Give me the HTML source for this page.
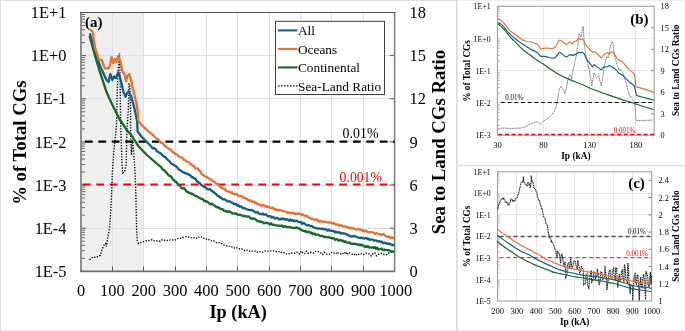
<!DOCTYPE html>
<html><head><meta charset="utf-8"><style>
html,body{margin:0;padding:0;background:#fff;width:685px;height:331px;overflow:hidden}
svg{display:block;will-change:transform}
text{font-family:"Liberation Serif", serif}
</style></head><body>
<svg width="685" height="331" viewBox="0 0 685 331">
<rect width="685" height="331" fill="#fff"/>
<rect x="81" y="12.5" width="62.7" height="258.8" fill="#efefef"/>
<line x1="112.5" y1="12.5" x2="112.5" y2="271.3" stroke="#e0e0e0" stroke-width="1"/>
<line x1="143.5" y1="12.5" x2="143.5" y2="271.3" stroke="#e0e0e0" stroke-width="1"/>
<line x1="175.5" y1="12.5" x2="175.5" y2="271.3" stroke="#e0e0e0" stroke-width="1"/>
<line x1="206.5" y1="12.5" x2="206.5" y2="271.3" stroke="#e0e0e0" stroke-width="1"/>
<line x1="237.5" y1="12.5" x2="237.5" y2="271.3" stroke="#e0e0e0" stroke-width="1"/>
<line x1="269.5" y1="12.5" x2="269.5" y2="271.3" stroke="#e0e0e0" stroke-width="1"/>
<line x1="300.5" y1="12.5" x2="300.5" y2="271.3" stroke="#e0e0e0" stroke-width="1"/>
<line x1="331.5" y1="12.5" x2="331.5" y2="271.3" stroke="#e0e0e0" stroke-width="1"/>
<line x1="363.5" y1="12.5" x2="363.5" y2="271.3" stroke="#e0e0e0" stroke-width="1"/>
<line x1="81" y1="55.5" x2="394.6" y2="55.5" stroke="#e0e0e0" stroke-width="1"/>
<line x1="81" y1="98.5" x2="394.6" y2="98.5" stroke="#e0e0e0" stroke-width="1"/>
<line x1="81" y1="141.5" x2="394.6" y2="141.5" stroke="#e0e0e0" stroke-width="1"/>
<line x1="81" y1="185.5" x2="394.6" y2="185.5" stroke="#e0e0e0" stroke-width="1"/>
<line x1="81" y1="228.5" x2="394.6" y2="228.5" stroke="#e0e0e0" stroke-width="1"/>
<line x1="81" y1="42.6" x2="85" y2="42.6" stroke="#595959" stroke-width="0.9"/>
<line x1="81" y1="35.1" x2="85" y2="35.1" stroke="#595959" stroke-width="0.9"/>
<line x1="81" y1="29.7" x2="85" y2="29.7" stroke="#595959" stroke-width="0.9"/>
<line x1="81" y1="25.5" x2="85" y2="25.5" stroke="#595959" stroke-width="0.9"/>
<line x1="81" y1="22.1" x2="85" y2="22.1" stroke="#595959" stroke-width="0.9"/>
<line x1="81" y1="19.2" x2="85" y2="19.2" stroke="#595959" stroke-width="0.9"/>
<line x1="81" y1="16.7" x2="85" y2="16.7" stroke="#595959" stroke-width="0.9"/>
<line x1="81" y1="14.5" x2="85" y2="14.5" stroke="#595959" stroke-width="0.9"/>
<line x1="81" y1="85.8" x2="85" y2="85.8" stroke="#595959" stroke-width="0.9"/>
<line x1="81" y1="78.2" x2="85" y2="78.2" stroke="#595959" stroke-width="0.9"/>
<line x1="81" y1="72.8" x2="85" y2="72.8" stroke="#595959" stroke-width="0.9"/>
<line x1="81" y1="68.6" x2="85" y2="68.6" stroke="#595959" stroke-width="0.9"/>
<line x1="81" y1="65.2" x2="85" y2="65.2" stroke="#595959" stroke-width="0.9"/>
<line x1="81" y1="62.3" x2="85" y2="62.3" stroke="#595959" stroke-width="0.9"/>
<line x1="81" y1="59.8" x2="85" y2="59.8" stroke="#595959" stroke-width="0.9"/>
<line x1="81" y1="57.6" x2="85" y2="57.6" stroke="#595959" stroke-width="0.9"/>
<line x1="81" y1="128.9" x2="85" y2="128.9" stroke="#595959" stroke-width="0.9"/>
<line x1="81" y1="121.3" x2="85" y2="121.3" stroke="#595959" stroke-width="0.9"/>
<line x1="81" y1="115.9" x2="85" y2="115.9" stroke="#595959" stroke-width="0.9"/>
<line x1="81" y1="111.8" x2="85" y2="111.8" stroke="#595959" stroke-width="0.9"/>
<line x1="81" y1="108.3" x2="85" y2="108.3" stroke="#595959" stroke-width="0.9"/>
<line x1="81" y1="105.4" x2="85" y2="105.4" stroke="#595959" stroke-width="0.9"/>
<line x1="81" y1="102.9" x2="85" y2="102.9" stroke="#595959" stroke-width="0.9"/>
<line x1="81" y1="100.7" x2="85" y2="100.7" stroke="#595959" stroke-width="0.9"/>
<line x1="81" y1="172.0" x2="85" y2="172.0" stroke="#595959" stroke-width="0.9"/>
<line x1="81" y1="164.5" x2="85" y2="164.5" stroke="#595959" stroke-width="0.9"/>
<line x1="81" y1="159.1" x2="85" y2="159.1" stroke="#595959" stroke-width="0.9"/>
<line x1="81" y1="154.9" x2="85" y2="154.9" stroke="#595959" stroke-width="0.9"/>
<line x1="81" y1="151.5" x2="85" y2="151.5" stroke="#595959" stroke-width="0.9"/>
<line x1="81" y1="148.6" x2="85" y2="148.6" stroke="#595959" stroke-width="0.9"/>
<line x1="81" y1="146.1" x2="85" y2="146.1" stroke="#595959" stroke-width="0.9"/>
<line x1="81" y1="143.9" x2="85" y2="143.9" stroke="#595959" stroke-width="0.9"/>
<line x1="81" y1="215.2" x2="85" y2="215.2" stroke="#595959" stroke-width="0.9"/>
<line x1="81" y1="207.6" x2="85" y2="207.6" stroke="#595959" stroke-width="0.9"/>
<line x1="81" y1="202.2" x2="85" y2="202.2" stroke="#595959" stroke-width="0.9"/>
<line x1="81" y1="198.0" x2="85" y2="198.0" stroke="#595959" stroke-width="0.9"/>
<line x1="81" y1="194.6" x2="85" y2="194.6" stroke="#595959" stroke-width="0.9"/>
<line x1="81" y1="191.7" x2="85" y2="191.7" stroke="#595959" stroke-width="0.9"/>
<line x1="81" y1="189.2" x2="85" y2="189.2" stroke="#595959" stroke-width="0.9"/>
<line x1="81" y1="187.0" x2="85" y2="187.0" stroke="#595959" stroke-width="0.9"/>
<line x1="81" y1="258.3" x2="85" y2="258.3" stroke="#595959" stroke-width="0.9"/>
<line x1="81" y1="250.7" x2="85" y2="250.7" stroke="#595959" stroke-width="0.9"/>
<line x1="81" y1="245.3" x2="85" y2="245.3" stroke="#595959" stroke-width="0.9"/>
<line x1="81" y1="241.2" x2="85" y2="241.2" stroke="#595959" stroke-width="0.9"/>
<line x1="81" y1="237.7" x2="85" y2="237.7" stroke="#595959" stroke-width="0.9"/>
<line x1="81" y1="234.8" x2="85" y2="234.8" stroke="#595959" stroke-width="0.9"/>
<line x1="81" y1="232.3" x2="85" y2="232.3" stroke="#595959" stroke-width="0.9"/>
<line x1="81" y1="230.1" x2="85" y2="230.1" stroke="#595959" stroke-width="0.9"/>
<line x1="81" y1="12.5" x2="86" y2="12.5" stroke="#595959" stroke-width="1"/>
<line x1="81" y1="55.6" x2="86" y2="55.6" stroke="#595959" stroke-width="1"/>
<line x1="81" y1="98.8" x2="86" y2="98.8" stroke="#595959" stroke-width="1"/>
<line x1="81" y1="141.9" x2="86" y2="141.9" stroke="#595959" stroke-width="1"/>
<line x1="81" y1="185.0" x2="86" y2="185.0" stroke="#595959" stroke-width="1"/>
<line x1="81" y1="228.2" x2="86" y2="228.2" stroke="#595959" stroke-width="1"/>
<line x1="81" y1="271.3" x2="86" y2="271.3" stroke="#595959" stroke-width="1"/>
<line x1="112.5" y1="271.3" x2="112.5" y2="266.3" stroke="#595959" stroke-width="1"/>
<line x1="143.5" y1="271.3" x2="143.5" y2="266.3" stroke="#595959" stroke-width="1"/>
<line x1="175.5" y1="271.3" x2="175.5" y2="266.3" stroke="#595959" stroke-width="1"/>
<line x1="206.5" y1="271.3" x2="206.5" y2="266.3" stroke="#595959" stroke-width="1"/>
<line x1="237.5" y1="271.3" x2="237.5" y2="266.3" stroke="#595959" stroke-width="1"/>
<line x1="269.5" y1="271.3" x2="269.5" y2="266.3" stroke="#595959" stroke-width="1"/>
<line x1="300.5" y1="271.3" x2="300.5" y2="266.3" stroke="#595959" stroke-width="1"/>
<line x1="331.5" y1="271.3" x2="331.5" y2="266.3" stroke="#595959" stroke-width="1"/>
<line x1="363.5" y1="271.3" x2="363.5" y2="266.3" stroke="#595959" stroke-width="1"/>
<line x1="394.6" y1="55.6" x2="389.6" y2="55.6" stroke="#595959" stroke-width="1"/>
<line x1="394.6" y1="98.8" x2="389.6" y2="98.8" stroke="#595959" stroke-width="1"/>
<line x1="394.6" y1="141.9" x2="389.6" y2="141.9" stroke="#595959" stroke-width="1"/>
<line x1="394.6" y1="185.0" x2="389.6" y2="185.0" stroke="#595959" stroke-width="1"/>
<line x1="394.6" y1="228.2" x2="389.6" y2="228.2" stroke="#595959" stroke-width="1"/>
<line x1="81" y1="12.5" x2="81" y2="271.3" stroke="#8a8a8a" stroke-width="1.9"/>
<line x1="394.6" y1="12.5" x2="394.6" y2="271.3" stroke="#7a7a7a" stroke-width="1.5"/>
<line x1="80" y1="271.3" x2="395.3" y2="271.3" stroke="#6e6e6e" stroke-width="1.8"/>
<line x1="80" y1="12.5" x2="395.3" y2="12.5" stroke="#505050" stroke-width="1.2"/>
<line x1="85" y1="141.6" x2="394.6" y2="141.6" stroke="#000" stroke-width="2.2" stroke-dasharray="7.7 5.7"/>
<line x1="82.8" y1="184.5" x2="394.6" y2="184.5" stroke="#ff0000" stroke-width="2.2" stroke-dasharray="7.7 5.8"/>
<polyline points="89.50,259.80 92.70,257.10 95.90,257.50 100.10,255.40 102.20,249.00 104.30,244.80 105.50,243.50 106.40,246.50 107.50,239.10 109.60,227.50 110.70,212.70 111.30,200.00 112.30,173.00 114.00,150.00 116.50,125.00 117.30,90.00 118.20,70.00 119.50,53.50 120.10,75.00 120.40,110.00 121.00,135.00 121.90,160.00 122.60,173.00 124.50,172.00 126.10,165.00 126.90,132.00 128.30,110.00 129.00,84.00 129.80,84.00 130.50,110.00 130.80,140.00 131.40,155.00 132.70,140.00 133.60,152.00 135.20,175.00 136.00,200.00 136.60,230.00 137.40,241.00 138.50,243.30 141.30,242.30 143.65,241.70 146.00,240.70 148.03,240.72 150.07,240.44 152.10,239.60 154.10,240.77 156.10,240.92 158.10,241.00 160.13,241.41 162.17,239.71 164.20,240.20 166.20,240.04 168.20,240.71 170.20,239.90 172.23,240.04 174.27,240.34 176.30,239.60 178.30,238.35 180.30,238.28 182.30,237.70 184.55,236.74 186.80,236.60 188.83,237.14 190.87,237.65 192.90,238.00 195.15,237.42 197.40,238.40 199.70,236.50 201.55,237.00 203.40,238.40 205.43,238.45 207.47,239.87 209.50,239.60 211.50,240.89 213.50,240.79 215.50,242.20 217.53,243.18 219.57,242.62 221.60,243.70 223.85,244.89 226.10,245.70 228.35,245.75 230.60,247.00 232.63,246.50 234.67,248.19 236.70,247.90 238.35,247.99 240.00,249.00 241.86,248.90 243.72,250.49 245.58,250.68 247.44,250.10 249.30,250.80 250.92,251.66 252.53,251.10 254.15,251.43 255.77,250.79 257.38,252.09 259.00,251.50 260.62,251.77 262.23,252.18 263.85,252.03 265.47,251.04 267.08,251.11 268.70,251.30 270.30,250.85 271.90,250.90 273.50,250.85 275.10,251.32 276.70,251.88 278.30,251.80 279.92,251.32 281.53,252.72 283.15,252.49 284.77,252.76 286.38,253.89 288.00,253.70 289.62,253.47 291.23,253.01 292.85,253.07 294.47,253.23 296.08,251.99 297.70,252.50 299.46,253.93 301.21,251.07 302.97,253.25 304.73,253.53 306.49,251.05 308.24,253.36 310.00,252.50 311.85,252.20 313.70,252.94 315.55,251.33 317.40,251.54 319.25,252.04 321.10,253.10 322.73,254.47 324.36,252.19 325.99,253.87 327.62,254.39 329.25,254.43 330.88,252.63 332.52,252.66 334.15,253.17 335.78,253.93 337.41,251.92 339.04,253.85 340.67,253.99 342.30,253.10 343.92,254.29 345.55,251.94 347.17,254.78 348.79,252.34 350.42,253.20 352.04,254.12 353.66,255.16 355.28,253.54 356.91,255.41 358.53,254.39 360.15,253.81 361.78,253.94 363.40,254.60 365.03,253.60 366.66,253.27 368.29,253.45 369.92,255.04 371.55,255.94 373.18,253.40 374.82,253.03 376.45,255.81 378.08,254.42 379.71,254.01 381.34,253.47 382.97,254.51 384.60,254.20 386.50,254.76 388.40,253.23 390.30,252.71 392.20,251.19 394.10,252.10" fill="none" stroke="#000" stroke-width="1.35" stroke-dasharray="1.3 1.5"/>
<polyline points="89.60,35.90 95.00,55.60 99.50,70.70 104.00,84.30 105.80,90.00 107.80,95.00 112.20,104.50 119.40,119.00 126.70,129.90 130.00,133.60 133.90,139.00 138.50,146.30 146.90,155.00 160.00,166.30 161.08,166.78 162.16,168.99 163.23,169.92 164.31,170.17 165.39,171.63 166.47,172.62 167.54,174.01 168.62,175.30 169.70,175.90 170.77,176.33 171.83,177.30 172.90,179.67 173.97,180.10 175.03,181.71 176.10,181.57 177.17,183.36 178.23,184.88 179.30,185.60 180.38,185.97 181.46,187.91 182.53,188.64 183.61,188.05 184.69,188.84 185.77,190.47 186.84,191.90 187.92,191.81 189.00,192.80 190.08,192.89 191.16,193.76 192.23,193.68 193.31,194.53 194.39,195.42 195.47,196.06 196.54,196.18 197.62,196.72 198.70,197.70 199.77,197.78 200.83,198.70 201.90,198.96 202.97,199.07 204.03,200.91 205.10,200.99 206.17,201.66 207.23,201.46 208.30,202.50 209.50,203.86 210.70,204.23 211.90,203.62 213.10,204.80 214.12,205.03 215.13,206.15 216.15,206.64 217.17,207.50 218.18,207.18 219.20,207.80 220.20,208.83 221.20,209.07 222.20,208.99 223.20,209.94 224.20,210.91 225.20,210.80 226.22,211.65 227.23,211.41 228.25,211.84 229.27,211.26 230.28,211.89 231.30,212.60 232.53,213.48 233.77,213.26 235.00,213.80 236.00,213.50 237.00,214.32 238.00,214.79 239.00,214.97 240.00,214.71 241.00,215.04 242.00,215.37 243.00,216.02 244.00,215.80 245.00,216.13 246.00,216.23 247.00,216.68 248.00,216.25 249.00,216.57 250.00,217.93 251.00,218.67 252.00,218.35 253.00,218.50 254.00,218.74 255.00,218.79 256.00,219.74 257.00,220.92 258.00,220.99 259.00,221.03 260.00,221.95 261.00,221.36 262.00,222.20 263.00,222.42 264.00,223.32 265.00,222.92 266.00,222.93 267.00,222.83 268.00,223.40 269.02,223.68 270.03,224.53 271.05,223.21 272.07,224.65 273.08,224.91 274.10,224.60 275.10,225.42 276.10,225.38 277.10,225.69 278.10,225.43 279.10,225.70 280.10,225.80 281.12,225.85 282.13,225.42 283.15,226.89 284.17,226.58 285.18,226.15 286.20,226.80 287.20,226.94 288.20,227.04 289.20,226.97 290.20,227.09 291.20,227.53 292.20,227.60 293.22,227.93 294.23,228.05 295.25,227.93 296.27,227.38 297.28,227.83 298.30,228.40 299.32,228.28 300.35,229.32 301.38,230.15 302.40,230.44 303.43,230.83 304.45,231.26 305.48,230.75 306.50,232.08 307.53,232.20 308.55,231.65 309.58,231.94 310.60,233.10 311.65,232.63 312.70,234.13 313.75,233.63 314.80,233.72 315.85,234.85 316.90,234.71 317.95,234.58 319.00,235.04 320.05,235.93 321.10,236.20 322.16,235.88 323.22,236.26 324.28,237.17 325.34,236.97 326.40,236.97 327.46,237.42 328.52,236.91 329.58,237.70 330.64,237.96 331.70,238.30 332.76,238.08 333.82,238.23 334.88,239.78 335.94,239.44 337.00,239.23 338.06,240.15 339.12,240.77 340.18,239.77 341.24,240.05 342.30,241.10 343.36,240.78 344.42,241.95 345.48,241.31 346.54,242.43 347.60,242.64 348.66,242.67 349.72,242.40 350.78,243.86 351.84,243.83 352.90,243.60 353.95,243.84 355.00,243.58 356.05,244.47 357.10,244.27 358.15,244.77 359.20,244.57 360.25,245.28 361.30,244.57 362.35,245.17 363.40,245.70 364.46,246.67 365.52,246.74 366.58,246.05 367.64,247.15 368.70,246.50 369.76,247.72 370.82,247.63 371.88,247.33 372.94,247.28 374.00,247.90 375.06,247.27 376.12,248.83 377.18,247.64 378.24,249.05 379.30,249.44 380.36,248.97 381.42,248.49 382.48,249.77 383.54,250.10 384.60,249.50 385.66,250.12 386.71,250.09 387.77,250.17 388.82,250.41 389.88,250.47 390.93,251.51 391.99,251.41 393.04,251.32 394.10,252.10" fill="none" stroke="#16692a" stroke-width="2.3" stroke-linejoin="round"/>
<polyline points="89.80,33.20 95.00,51.00 99.50,64.60 102.60,71.40 105.00,77.00 106.30,79.70 107.40,80.50 108.60,82.00 110.40,74.00 112.30,80.00 114.10,76.40 115.90,78.20 118.30,72.20 120.70,80.00 121.90,85.00 123.10,90.90 125.50,96.90 126.80,93.30 128.60,91.50 131.00,95.70 132.80,102.40 134.60,109.00 135.80,115.00 137.10,121.00 137.60,131.50 141.60,136.80 151.10,146.30 152.21,147.87 153.32,148.69 154.44,148.10 155.55,148.99 156.66,151.02 157.78,151.70 158.89,152.43 160.00,153.00 161.08,153.63 162.16,155.04 163.23,155.97 164.31,156.86 165.39,157.12 166.47,158.49 167.54,159.36 168.62,160.82 169.70,161.40 170.77,163.14 171.83,164.01 172.90,164.30 173.97,165.09 175.03,165.75 176.10,166.32 177.17,167.26 178.23,168.90 179.30,169.90 180.41,170.22 181.53,170.94 182.64,172.37 183.76,172.40 184.87,173.07 185.99,173.16 187.10,174.20 188.10,173.94 189.10,174.92 190.10,175.12 191.10,176.22 192.10,177.50 193.10,177.20 194.25,178.50 195.40,178.72 196.55,180.88 197.70,181.74 198.85,182.66 200.00,183.30 201.00,184.82 202.00,185.45 203.00,185.90 204.00,186.96 205.00,186.87 206.00,187.70 207.03,188.97 208.07,189.44 209.10,189.20 210.10,189.16 211.10,190.61 212.10,190.70 213.11,191.89 214.13,192.32 215.14,193.28 216.16,194.06 217.17,195.59 218.19,195.76 219.20,196.60 220.20,197.66 221.20,197.43 222.20,198.81 223.20,199.37 224.20,199.20 225.20,199.80 226.22,200.34 227.23,201.34 228.25,201.46 229.27,201.51 230.28,201.52 231.30,202.40 232.53,202.69 233.77,203.85 235.00,204.10 236.08,204.01 237.16,205.63 238.24,205.05 239.32,206.52 240.40,206.30 241.58,206.54 242.76,208.11 243.94,208.25 245.12,208.47 246.30,209.00 247.43,209.35 248.57,209.88 249.70,210.09 250.83,209.97 251.97,210.12 253.10,210.90 254.20,211.36 255.30,212.47 256.40,212.42 257.50,211.98 258.60,213.10 259.67,213.85 260.73,213.93 261.80,214.45 262.87,213.54 263.93,214.66 265.00,214.50 266.23,214.39 267.47,215.94 268.70,216.30 269.77,216.20 270.83,216.40 271.90,217.70 272.97,216.74 274.03,217.67 275.10,218.47 276.17,217.76 277.23,217.97 278.30,218.70 279.38,219.44 280.46,218.84 281.53,219.45 282.61,218.48 283.69,219.15 284.77,218.98 285.84,219.91 286.92,219.10 288.00,219.90 289.08,220.81 290.16,219.50 291.23,220.80 292.31,219.84 293.39,220.40 294.47,221.47 295.54,220.60 296.62,220.82 297.70,221.50 298.77,222.21 299.85,222.12 300.93,221.97 302.00,223.88 303.07,222.94 304.15,223.16 305.23,224.05 306.30,224.88 307.38,225.49 308.45,224.88 309.53,225.64 310.60,226.30 311.65,225.80 312.70,226.72 313.75,227.48 314.80,227.68 315.85,228.19 316.90,228.21 317.95,228.63 319.00,228.63 320.05,228.51 321.10,228.80 322.16,228.57 323.22,229.48 324.28,229.14 325.34,229.00 326.40,229.77 327.46,230.66 328.52,229.67 329.58,230.62 330.64,230.52 331.70,230.90 332.76,231.20 333.82,230.89 334.88,232.48 335.94,231.63 337.00,232.47 338.06,232.45 339.12,232.09 340.18,233.23 341.24,232.84 342.30,233.70 343.36,233.24 344.42,233.45 345.48,233.91 346.54,234.05 347.60,235.17 348.66,235.21 349.72,236.22 350.78,236.39 351.84,236.74 352.90,236.20 353.95,235.98 355.00,236.53 356.05,236.43 357.10,237.19 358.15,237.45 359.20,237.94 360.25,238.01 361.30,237.49 362.35,237.97 363.40,238.30 364.46,238.56 365.52,237.95 366.58,238.22 367.64,239.03 368.70,238.78 369.76,239.98 370.82,239.43 371.88,239.42 372.94,239.77 374.00,240.50 375.06,240.28 376.12,240.47 377.18,241.16 378.24,241.28 379.30,241.25 380.36,241.99 381.42,241.51 382.48,242.83 383.54,243.13 384.60,242.60 385.66,243.31 386.71,243.18 387.77,243.65 388.82,244.11 389.88,243.60 390.93,244.54 391.99,245.05 393.04,244.85 394.10,245.70" fill="none" stroke="#155d82" stroke-width="2.3" stroke-linejoin="round"/>
<polyline points="90.10,29.20 92.90,32.30 95.00,48.00 97.10,54.00 98.80,59.40 101.80,60.10 104.80,68.40 108.60,68.40 110.10,64.60 111.60,57.10 113.30,63.00 115.00,59.00 116.50,61.90 118.30,55.90 120.10,60.10 122.50,71.60 124.30,74.00 126.10,81.30 127.40,75.80 129.20,74.00 131.00,80.00 132.20,86.00 134.00,93.30 136.40,103.00 137.60,111.40 138.20,120.50 142.70,126.20 151.10,133.60 152.19,134.17 153.28,135.65 154.36,136.35 155.45,137.72 156.54,138.74 157.62,138.83 158.71,139.73 159.80,141.50 160.90,142.91 162.00,142.85 163.10,143.67 164.20,145.76 165.30,145.79 166.40,147.24 167.50,147.53 168.60,148.66 169.70,149.30 170.77,149.55 171.83,151.14 172.90,152.32 173.97,152.58 175.03,153.74 176.10,154.44 177.17,154.28 178.23,156.20 179.30,156.60 180.38,157.38 181.46,157.55 182.53,157.75 183.61,159.72 184.69,159.72 185.77,160.75 186.84,161.64 187.92,162.01 189.00,162.30 190.03,163.82 191.05,163.83 192.07,165.33 193.10,165.70 194.12,166.41 195.13,168.00 196.15,168.71 197.17,168.26 198.18,169.12 199.20,170.50 200.47,171.55 201.73,174.24 203.00,175.00 204.00,175.50 205.00,176.40 206.00,176.80 207.03,177.08 208.07,178.01 209.10,178.60 210.10,179.05 211.10,179.63 212.10,180.50 213.10,181.24 214.10,181.83 215.10,182.30 216.10,183.65 217.10,183.99 218.10,184.40 219.28,186.01 220.46,186.81 221.64,187.95 222.82,188.35 224.00,189.00 225.00,188.96 226.00,190.58 227.00,191.24 228.00,191.65 229.00,191.61 230.00,192.00 231.00,192.76 232.00,192.38 233.00,193.79 234.00,193.80 235.00,194.10 236.08,194.12 237.16,194.12 238.24,195.75 239.32,196.32 240.40,195.90 241.58,195.86 242.76,197.62 243.94,197.62 245.12,197.82 246.30,199.00 247.43,199.14 248.57,200.36 249.70,201.00 250.83,200.14 251.97,201.52 253.10,201.80 254.14,201.50 255.19,203.01 256.23,202.82 257.27,204.12 258.31,204.71 259.36,204.38 260.40,204.80 261.55,205.95 262.70,205.20 263.85,205.17 265.00,206.20 266.00,206.66 267.00,206.05 268.00,207.10 269.02,206.92 270.03,207.55 271.05,208.18 272.07,207.75 273.08,207.87 274.10,208.90 275.10,209.69 276.10,209.00 277.10,210.23 278.10,210.33 279.10,209.70 280.10,210.10 281.12,210.34 282.13,210.73 283.15,211.23 284.17,211.45 285.18,211.69 286.20,211.90 287.20,212.29 288.20,213.00 289.20,212.51 290.20,212.59 291.20,213.25 292.20,213.10 293.22,212.81 294.23,213.05 295.25,214.26 296.27,213.67 297.28,213.84 298.30,213.90 299.40,213.38 300.50,214.30 301.60,214.83 302.70,214.20 303.80,215.42 304.90,215.50 306.04,216.27 307.18,215.92 308.32,217.38 309.46,217.69 310.60,218.30 311.65,218.90 312.70,218.68 313.75,219.56 314.80,219.92 315.85,219.09 316.90,219.46 317.95,220.75 319.00,221.52 320.05,220.69 321.10,221.40 322.16,221.48 323.22,221.85 324.28,221.56 325.34,221.78 326.40,221.85 327.46,222.09 328.52,222.60 329.58,222.28 330.64,222.55 331.70,222.90 332.76,223.68 333.82,222.82 334.88,224.03 335.94,224.64 337.00,224.30 338.06,224.50 339.12,225.77 340.18,225.20 341.24,225.46 342.30,226.30 343.36,226.41 344.42,227.04 345.48,226.29 346.54,226.86 347.60,227.08 348.66,228.09 349.72,227.67 350.78,228.55 351.84,227.66 352.90,228.40 353.95,228.35 355.00,229.06 356.05,229.65 357.10,229.16 358.15,229.01 359.20,229.05 360.25,229.92 361.30,229.59 362.35,230.78 363.40,230.50 364.46,231.30 365.52,230.51 366.58,230.93 367.64,232.03 368.70,232.03 369.76,232.55 370.82,232.07 371.88,231.99 372.94,232.51 374.00,233.10 375.06,233.78 376.12,233.15 377.18,233.48 378.24,233.81 379.30,234.02 380.36,234.22 381.42,235.24 382.48,234.23 383.54,234.20 384.60,235.20 385.66,236.25 386.71,236.50 387.77,237.01 388.82,236.47 389.88,237.64 390.93,237.95 391.99,237.17 393.04,238.35 394.10,238.30" fill="none" stroke="#e9702e" stroke-width="2.3" stroke-linejoin="round"/>
<rect x="275.5" y="21.3" width="109" height="73.2" fill="#fff" stroke="#404040" stroke-width="1"/>
<line x1="278" y1="30.4" x2="297.5" y2="30.4" stroke="#155d82" stroke-width="2.1"/>
<text x="298" y="35.0" font-size="13.3">All</text>
<line x1="278" y1="48.9" x2="297.5" y2="48.9" stroke="#e9702e" stroke-width="2.1"/>
<text x="298" y="53.5" font-size="13.3">Oceans</text>
<line x1="278" y1="67.4" x2="297.5" y2="67.4" stroke="#16692a" stroke-width="2.1"/>
<text x="298" y="72.0" font-size="13.3">Continental</text>
<line x1="278" y1="85.9" x2="297.5" y2="85.9" stroke="#000" stroke-width="1.4" stroke-dasharray="1.5 1.5"/>
<text x="298" y="90.5" font-size="13.3">Sea-Land Ratio</text>
<text x="66.5" y="18.1" font-size="16.4" text-anchor="end">1E+1</text>
<text x="66.5" y="61.2" font-size="16.4" text-anchor="end">1E+0</text>
<text x="66.5" y="104.4" font-size="16.4" text-anchor="end">1E-1</text>
<text x="66.5" y="147.5" font-size="16.4" text-anchor="end">1E-2</text>
<text x="66.5" y="190.6" font-size="16.4" text-anchor="end">1E-3</text>
<text x="66.5" y="233.8" font-size="16.4" text-anchor="end">1E-4</text>
<text x="66.5" y="276.9" font-size="16.4" text-anchor="end">1E-5</text>
<text x="409.5" y="18.1" font-size="16.4">18</text>
<text x="409.5" y="61.2" font-size="16.4">15</text>
<text x="409.5" y="104.4" font-size="16.4">12</text>
<text x="409.5" y="147.5" font-size="16.4">9</text>
<text x="409.5" y="190.6" font-size="16.4">6</text>
<text x="409.5" y="233.8" font-size="16.4">3</text>
<text x="409.5" y="276.9" font-size="16.4">0</text>
<text x="81.0" y="295.8" font-size="16.4" text-anchor="middle">0</text>
<text x="112.4" y="295.8" font-size="16.4" text-anchor="middle">100</text>
<text x="143.7" y="295.8" font-size="16.4" text-anchor="middle">200</text>
<text x="175.1" y="295.8" font-size="16.4" text-anchor="middle">300</text>
<text x="206.4" y="295.8" font-size="16.4" text-anchor="middle">400</text>
<text x="237.8" y="295.8" font-size="16.4" text-anchor="middle">500</text>
<text x="269.2" y="295.8" font-size="16.4" text-anchor="middle">600</text>
<text x="300.5" y="295.8" font-size="16.4" text-anchor="middle">700</text>
<text x="331.9" y="295.8" font-size="16.4" text-anchor="middle">800</text>
<text x="363.2" y="295.8" font-size="16.4" text-anchor="middle">900</text>
<text x="395.8" y="295.8" font-size="16.4" text-anchor="middle">1000</text>
<text x="238.2" y="318" font-size="18.3" font-weight="bold" text-anchor="middle">Ip (kA)</text>
<text transform="translate(26.1,142.6) rotate(-90)" font-size="18.75" font-weight="bold" text-anchor="middle">% of Total CGs</text>
<text transform="translate(444.5,142.05) rotate(-90)" font-size="18.75" font-weight="bold" text-anchor="middle">Sea to Land CGs Ratio</text>
<text x="85" y="26.8" font-size="15" font-weight="bold">(a)</text>
<text x="342.6" y="138" font-size="14.3" textLength="36" lengthAdjust="spacingAndGlyphs">0.01%</text>
<text x="339.6" y="181.5" font-size="14.2" fill="#ff0000" textLength="42.3" lengthAdjust="spacingAndGlyphs">0.001%</text>
<line x1="543.5" y1="6.3" x2="543.5" y2="135.2" stroke="#e0e0e0" stroke-width="0.8"/>
<line x1="589.5" y1="6.3" x2="589.5" y2="135.2" stroke="#e0e0e0" stroke-width="0.8"/>
<line x1="635.5" y1="6.3" x2="635.5" y2="135.2" stroke="#e0e0e0" stroke-width="0.8"/>
<line x1="497.4" y1="38.5" x2="654.2" y2="38.5" stroke="#e0e0e0" stroke-width="0.8"/>
<line x1="497.4" y1="70.5" x2="654.2" y2="70.5" stroke="#e0e0e0" stroke-width="0.8"/>
<line x1="497.4" y1="102.5" x2="654.2" y2="102.5" stroke="#e0e0e0" stroke-width="0.8"/>
<line x1="497.4" y1="28.8" x2="499.9" y2="28.8" stroke="#888" stroke-width="0.6"/>
<line x1="497.4" y1="23.1" x2="499.9" y2="23.1" stroke="#888" stroke-width="0.6"/>
<line x1="497.4" y1="19.1" x2="499.9" y2="19.1" stroke="#888" stroke-width="0.6"/>
<line x1="497.4" y1="16.0" x2="499.9" y2="16.0" stroke="#888" stroke-width="0.6"/>
<line x1="497.4" y1="13.4" x2="499.9" y2="13.4" stroke="#888" stroke-width="0.6"/>
<line x1="497.4" y1="11.3" x2="499.9" y2="11.3" stroke="#888" stroke-width="0.6"/>
<line x1="497.4" y1="9.4" x2="499.9" y2="9.4" stroke="#888" stroke-width="0.6"/>
<line x1="497.4" y1="7.8" x2="499.9" y2="7.8" stroke="#888" stroke-width="0.6"/>
<line x1="497.4" y1="61.0" x2="499.9" y2="61.0" stroke="#888" stroke-width="0.6"/>
<line x1="497.4" y1="55.4" x2="499.9" y2="55.4" stroke="#888" stroke-width="0.6"/>
<line x1="497.4" y1="51.3" x2="499.9" y2="51.3" stroke="#888" stroke-width="0.6"/>
<line x1="497.4" y1="48.2" x2="499.9" y2="48.2" stroke="#888" stroke-width="0.6"/>
<line x1="497.4" y1="45.7" x2="499.9" y2="45.7" stroke="#888" stroke-width="0.6"/>
<line x1="497.4" y1="43.5" x2="499.9" y2="43.5" stroke="#888" stroke-width="0.6"/>
<line x1="497.4" y1="41.6" x2="499.9" y2="41.6" stroke="#888" stroke-width="0.6"/>
<line x1="497.4" y1="40.0" x2="499.9" y2="40.0" stroke="#888" stroke-width="0.6"/>
<line x1="497.4" y1="93.3" x2="499.9" y2="93.3" stroke="#888" stroke-width="0.6"/>
<line x1="497.4" y1="87.6" x2="499.9" y2="87.6" stroke="#888" stroke-width="0.6"/>
<line x1="497.4" y1="83.6" x2="499.9" y2="83.6" stroke="#888" stroke-width="0.6"/>
<line x1="497.4" y1="80.5" x2="499.9" y2="80.5" stroke="#888" stroke-width="0.6"/>
<line x1="497.4" y1="77.9" x2="499.9" y2="77.9" stroke="#888" stroke-width="0.6"/>
<line x1="497.4" y1="75.7" x2="499.9" y2="75.7" stroke="#888" stroke-width="0.6"/>
<line x1="497.4" y1="73.9" x2="499.9" y2="73.9" stroke="#888" stroke-width="0.6"/>
<line x1="497.4" y1="72.2" x2="499.9" y2="72.2" stroke="#888" stroke-width="0.6"/>
<line x1="497.4" y1="125.5" x2="499.9" y2="125.5" stroke="#888" stroke-width="0.6"/>
<line x1="497.4" y1="119.8" x2="499.9" y2="119.8" stroke="#888" stroke-width="0.6"/>
<line x1="497.4" y1="115.8" x2="499.9" y2="115.8" stroke="#888" stroke-width="0.6"/>
<line x1="497.4" y1="112.7" x2="499.9" y2="112.7" stroke="#888" stroke-width="0.6"/>
<line x1="497.4" y1="110.1" x2="499.9" y2="110.1" stroke="#888" stroke-width="0.6"/>
<line x1="497.4" y1="108.0" x2="499.9" y2="108.0" stroke="#888" stroke-width="0.6"/>
<line x1="497.4" y1="106.1" x2="499.9" y2="106.1" stroke="#888" stroke-width="0.6"/>
<line x1="497.4" y1="104.4" x2="499.9" y2="104.4" stroke="#888" stroke-width="0.6"/>
<line x1="654.2" y1="27.8" x2="651.2" y2="27.8" stroke="#595959" stroke-width="0.7"/>
<line x1="654.2" y1="49.3" x2="651.2" y2="49.3" stroke="#595959" stroke-width="0.7"/>
<line x1="654.2" y1="70.7" x2="651.2" y2="70.7" stroke="#595959" stroke-width="0.7"/>
<line x1="654.2" y1="92.2" x2="651.2" y2="92.2" stroke="#595959" stroke-width="0.7"/>
<line x1="654.2" y1="113.7" x2="651.2" y2="113.7" stroke="#595959" stroke-width="0.7"/>
<rect x="497.4" y="6.3" width="156.8" height="128.9" fill="none" stroke="#a2a2a2" stroke-width="1.1"/>
<line x1="500.9" y1="102.5" x2="654.2" y2="102.5" stroke="#000" stroke-width="1.2" stroke-dasharray="3.9 2.8"/>
<line x1="498.4" y1="134.5" x2="654.2" y2="134.5" stroke="#ff0000" stroke-width="1.3" stroke-dasharray="3.9 2.7"/>
<polyline points="497.50,129.20 501.90,128.00 511.60,128.50 521.20,128.00 526.00,126.50 530.90,123.60 534.50,122.40 537.60,121.70 540.50,124.10 544.20,120.70 549.00,117.60 552.60,114.00 556.00,108.00 558.30,95.00 559.50,88.80 561.30,86.40 563.10,89.40 564.90,93.70 566.50,87.60 568.00,79.20 569.80,74.30 571.00,76.10 571.60,79.20 572.80,71.90 574.60,63.50 576.40,55.00 577.90,45.40 579.00,33.70 580.00,35.90 581.10,36.90 582.20,30.60 583.20,26.30 583.70,33.70 584.30,44.30 585.80,54.10 588.00,64.60 590.30,75.20 591.80,85.80 594.10,72.90 596.40,77.50 598.60,76.00 601.30,85.80 603.10,75.20 604.70,64.60 606.90,56.30 608.40,57.80 609.90,49.50 610.70,45.00 612.20,41.40 613.00,44.00 614.50,55.60 615.00,57.40 617.40,65.90 619.20,70.10 621.00,69.50 623.50,74.30 625.90,82.80 628.30,91.30 628.90,94.00 631.90,98.30 634.30,101.30 635.30,109.80 636.10,120.60 639.20,120.60 653.70,120.00" fill="none" stroke="#444" stroke-width="0.75" stroke-dasharray="1.2 0.6"/>
<path d="M498.00,23.80 C498.50,24.23 499.98,25.47 501.00,26.40 C502.02,27.33 503.08,28.28 504.10,29.40 C505.12,30.52 506.10,31.85 507.10,33.10 C508.10,34.35 509.10,35.77 510.10,36.90 C511.10,38.03 511.83,38.63 513.10,39.90 C514.37,41.17 516.18,42.98 517.70,44.50 C519.22,46.02 520.70,47.62 522.20,49.00 C523.70,50.38 525.40,51.80 526.70,52.80 C528.00,53.80 528.45,53.88 530.00,55.00 C531.55,56.12 533.68,57.93 536.00,59.50 C538.32,61.07 540.38,62.07 543.90,64.40 C547.42,66.73 552.88,71.00 557.10,73.50 C561.32,76.00 565.05,77.57 569.20,79.40 C573.35,81.23 577.87,82.77 582.00,84.50 C586.13,86.23 589.97,88.20 594.00,89.80 C598.03,91.40 601.87,92.58 606.20,94.10 C610.53,95.62 615.32,97.33 620.00,98.90 C624.68,100.47 628.68,101.68 634.30,103.50 C639.92,105.32 650.47,108.75 653.70,109.80" fill="none" stroke="#16692a" stroke-width="1.15"/>
<polyline points="498.00,22.60 501.00,24.10 504.10,27.10 507.10,30.90 510.10,34.40 513.10,36.90 517.70,40.70 522.20,43.70 526.70,46.70 531.20,49.60 534.30,50.90 537.50,52.70 539.60,55.40 541.20,56.40 544.90,56.40 549.10,57.50 552.80,58.30 555.50,57.70 557.10,55.40 559.20,52.20 560.80,52.70 563.50,55.40 566.60,57.10 569.80,54.60 573.00,55.40 575.30,54.40 579.00,52.30 581.10,52.80 582.70,52.30 584.30,53.80 586.50,59.40 589.60,63.10 592.60,66.90 594.10,64.60 597.10,66.90 601.30,69.90 603.90,66.90 606.90,66.90 609.20,65.40 612.20,66.90 614.50,68.40 617.00,70.70 618.60,73.10 622.30,74.90 625.90,78.60 629.50,82.20 634.30,85.80 635.30,90.00 636.50,95.50 653.70,100.10" fill="none" stroke="#155d82" stroke-width="1.15" stroke-linejoin="round"/>
<polyline points="498.00,18.80 501.00,20.30 504.10,23.30 507.10,27.10 510.10,30.90 513.10,33.10 517.70,36.20 522.20,39.90 526.70,41.50 531.20,41.80 534.30,43.20 537.50,44.30 539.10,46.40 540.70,49.00 542.80,48.50 546.00,48.00 549.10,48.20 552.30,48.80 555.50,46.90 557.60,43.20 559.20,40.00 560.80,40.60 563.50,42.30 566.60,44.80 569.80,41.90 572.10,43.80 574.20,41.70 576.90,40.60 579.00,38.50 580.60,39.60 582.70,39.00 584.80,42.70 586.90,46.40 589.00,48.50 591.10,50.90 592.70,52.30 594.30,51.50 596.40,53.00 598.60,55.00 601.30,57.80 603.90,54.80 606.90,52.60 609.20,54.10 611.50,51.80 613.70,52.60 617.00,58.60 618.60,59.80 622.30,61.60 625.90,65.90 629.50,70.10 634.30,73.70 636.10,87.00 639.20,87.60 645.20,89.40 653.70,91.90" fill="none" stroke="#e9702e" stroke-width="1.15" stroke-linejoin="round"/>
<text x="490.6" y="9.3" font-size="8.5" text-anchor="end" textLength="17.01" lengthAdjust="spacingAndGlyphs">1E+1</text>
<text x="490.6" y="41.5" font-size="8.5" text-anchor="end" textLength="17.01" lengthAdjust="spacingAndGlyphs">1E+0</text>
<text x="490.6" y="73.7" font-size="8.5" text-anchor="end" textLength="15.20" lengthAdjust="spacingAndGlyphs">1E-1</text>
<text x="490.6" y="106.0" font-size="8.5" text-anchor="end" textLength="15.20" lengthAdjust="spacingAndGlyphs">1E-2</text>
<text x="490.6" y="138.2" font-size="8.5" text-anchor="end" textLength="15.20" lengthAdjust="spacingAndGlyphs">1E-3</text>
<text x="660.5" y="9.3" font-size="8.3">18</text>
<text x="660.5" y="30.8" font-size="8.3">15</text>
<text x="660.5" y="52.3" font-size="8.3">12</text>
<text x="660.5" y="73.7" font-size="8.3">9</text>
<text x="660.5" y="95.2" font-size="8.3">6</text>
<text x="660.5" y="116.7" font-size="8.3">3</text>
<text x="660.5" y="138.2" font-size="8.3">0</text>
<text x="497.4" y="147.8" font-size="8.5" text-anchor="middle">30</text>
<text x="543.5" y="147.8" font-size="8.5" text-anchor="middle">80</text>
<text x="589.6" y="147.8" font-size="8.5" text-anchor="middle">130</text>
<text x="635.8" y="147.8" font-size="8.5" text-anchor="middle">180</text>
<text x="575.9" y="158.6" font-size="9.4" font-weight="bold" text-anchor="middle">Ip (kA)</text>
<text transform="translate(470.2,70.9) rotate(-90)" font-size="9.3" font-weight="bold" text-anchor="middle">% of Total CGs</text>
<text transform="translate(679.2,70.3) rotate(-90)" font-size="9.3" font-weight="bold" text-anchor="middle">Sea to Land CGs Ratio</text>
<text x="630.2" y="23.5" font-size="15" font-weight="bold">(b)</text>
<text x="505.2" y="99.5" font-size="7.5" textLength="18" lengthAdjust="spacingAndGlyphs">0.01%</text>
<text x="613.8" y="133.2" font-size="7.5" fill="#ff0000" textLength="21.4" lengthAdjust="spacingAndGlyphs">0.001%</text>
<line x1="516.5" y1="171.8" x2="516.5" y2="301.0" stroke="#e0e0e0" stroke-width="0.8"/>
<line x1="536.5" y1="171.8" x2="536.5" y2="301.0" stroke="#e0e0e0" stroke-width="0.8"/>
<line x1="555.5" y1="171.8" x2="555.5" y2="301.0" stroke="#e0e0e0" stroke-width="0.8"/>
<line x1="574.5" y1="171.8" x2="574.5" y2="301.0" stroke="#e0e0e0" stroke-width="0.8"/>
<line x1="593.5" y1="171.8" x2="593.5" y2="301.0" stroke="#e0e0e0" stroke-width="0.8"/>
<line x1="613.5" y1="171.8" x2="613.5" y2="301.0" stroke="#e0e0e0" stroke-width="0.8"/>
<line x1="632.5" y1="171.8" x2="632.5" y2="301.0" stroke="#e0e0e0" stroke-width="0.8"/>
<line x1="497.5" y1="193.5" x2="651.7" y2="193.5" stroke="#e0e0e0" stroke-width="0.8"/>
<line x1="497.5" y1="214.5" x2="651.7" y2="214.5" stroke="#e0e0e0" stroke-width="0.8"/>
<line x1="497.5" y1="236.5" x2="651.7" y2="236.5" stroke="#e0e0e0" stroke-width="0.8"/>
<line x1="497.5" y1="257.5" x2="651.7" y2="257.5" stroke="#e0e0e0" stroke-width="0.8"/>
<line x1="497.5" y1="279.5" x2="651.7" y2="279.5" stroke="#e0e0e0" stroke-width="0.8"/>
<line x1="497.5" y1="186.9" x2="499.5" y2="186.9" stroke="#888" stroke-width="0.5"/>
<line x1="497.5" y1="183.1" x2="499.5" y2="183.1" stroke="#888" stroke-width="0.5"/>
<line x1="497.5" y1="180.4" x2="499.5" y2="180.4" stroke="#888" stroke-width="0.5"/>
<line x1="497.5" y1="178.3" x2="499.5" y2="178.3" stroke="#888" stroke-width="0.5"/>
<line x1="497.5" y1="176.6" x2="499.5" y2="176.6" stroke="#888" stroke-width="0.5"/>
<line x1="497.5" y1="175.1" x2="499.5" y2="175.1" stroke="#888" stroke-width="0.5"/>
<line x1="497.5" y1="173.9" x2="499.5" y2="173.9" stroke="#888" stroke-width="0.5"/>
<line x1="497.5" y1="172.8" x2="499.5" y2="172.8" stroke="#888" stroke-width="0.5"/>
<line x1="497.5" y1="208.4" x2="499.5" y2="208.4" stroke="#888" stroke-width="0.5"/>
<line x1="497.5" y1="204.6" x2="499.5" y2="204.6" stroke="#888" stroke-width="0.5"/>
<line x1="497.5" y1="201.9" x2="499.5" y2="201.9" stroke="#888" stroke-width="0.5"/>
<line x1="497.5" y1="199.8" x2="499.5" y2="199.8" stroke="#888" stroke-width="0.5"/>
<line x1="497.5" y1="198.1" x2="499.5" y2="198.1" stroke="#888" stroke-width="0.5"/>
<line x1="497.5" y1="196.7" x2="499.5" y2="196.7" stroke="#888" stroke-width="0.5"/>
<line x1="497.5" y1="195.4" x2="499.5" y2="195.4" stroke="#888" stroke-width="0.5"/>
<line x1="497.5" y1="194.3" x2="499.5" y2="194.3" stroke="#888" stroke-width="0.5"/>
<line x1="497.5" y1="229.9" x2="499.5" y2="229.9" stroke="#888" stroke-width="0.5"/>
<line x1="497.5" y1="226.1" x2="499.5" y2="226.1" stroke="#888" stroke-width="0.5"/>
<line x1="497.5" y1="223.4" x2="499.5" y2="223.4" stroke="#888" stroke-width="0.5"/>
<line x1="497.5" y1="221.3" x2="499.5" y2="221.3" stroke="#888" stroke-width="0.5"/>
<line x1="497.5" y1="219.6" x2="499.5" y2="219.6" stroke="#888" stroke-width="0.5"/>
<line x1="497.5" y1="218.2" x2="499.5" y2="218.2" stroke="#888" stroke-width="0.5"/>
<line x1="497.5" y1="217.0" x2="499.5" y2="217.0" stroke="#888" stroke-width="0.5"/>
<line x1="497.5" y1="215.9" x2="499.5" y2="215.9" stroke="#888" stroke-width="0.5"/>
<line x1="497.5" y1="251.5" x2="499.5" y2="251.5" stroke="#888" stroke-width="0.5"/>
<line x1="497.5" y1="247.7" x2="499.5" y2="247.7" stroke="#888" stroke-width="0.5"/>
<line x1="497.5" y1="245.0" x2="499.5" y2="245.0" stroke="#888" stroke-width="0.5"/>
<line x1="497.5" y1="242.9" x2="499.5" y2="242.9" stroke="#888" stroke-width="0.5"/>
<line x1="497.5" y1="241.2" x2="499.5" y2="241.2" stroke="#888" stroke-width="0.5"/>
<line x1="497.5" y1="239.7" x2="499.5" y2="239.7" stroke="#888" stroke-width="0.5"/>
<line x1="497.5" y1="238.5" x2="499.5" y2="238.5" stroke="#888" stroke-width="0.5"/>
<line x1="497.5" y1="237.4" x2="499.5" y2="237.4" stroke="#888" stroke-width="0.5"/>
<line x1="497.5" y1="273.0" x2="499.5" y2="273.0" stroke="#888" stroke-width="0.5"/>
<line x1="497.5" y1="269.2" x2="499.5" y2="269.2" stroke="#888" stroke-width="0.5"/>
<line x1="497.5" y1="266.5" x2="499.5" y2="266.5" stroke="#888" stroke-width="0.5"/>
<line x1="497.5" y1="264.4" x2="499.5" y2="264.4" stroke="#888" stroke-width="0.5"/>
<line x1="497.5" y1="262.7" x2="499.5" y2="262.7" stroke="#888" stroke-width="0.5"/>
<line x1="497.5" y1="261.3" x2="499.5" y2="261.3" stroke="#888" stroke-width="0.5"/>
<line x1="497.5" y1="260.0" x2="499.5" y2="260.0" stroke="#888" stroke-width="0.5"/>
<line x1="497.5" y1="258.9" x2="499.5" y2="258.9" stroke="#888" stroke-width="0.5"/>
<line x1="497.5" y1="294.5" x2="499.5" y2="294.5" stroke="#888" stroke-width="0.5"/>
<line x1="497.5" y1="290.7" x2="499.5" y2="290.7" stroke="#888" stroke-width="0.5"/>
<line x1="497.5" y1="288.0" x2="499.5" y2="288.0" stroke="#888" stroke-width="0.5"/>
<line x1="497.5" y1="285.9" x2="499.5" y2="285.9" stroke="#888" stroke-width="0.5"/>
<line x1="497.5" y1="284.2" x2="499.5" y2="284.2" stroke="#888" stroke-width="0.5"/>
<line x1="497.5" y1="282.8" x2="499.5" y2="282.8" stroke="#888" stroke-width="0.5"/>
<line x1="497.5" y1="281.6" x2="499.5" y2="281.6" stroke="#888" stroke-width="0.5"/>
<line x1="497.5" y1="280.5" x2="499.5" y2="280.5" stroke="#888" stroke-width="0.5"/>
<line x1="648.7" y1="283.8" x2="651.7" y2="283.8" stroke="#595959" stroke-width="0.8"/>
<line x1="648.7" y1="266.5" x2="651.7" y2="266.5" stroke="#595959" stroke-width="0.8"/>
<line x1="648.7" y1="249.3" x2="651.7" y2="249.3" stroke="#595959" stroke-width="0.8"/>
<line x1="648.7" y1="232.1" x2="651.7" y2="232.1" stroke="#595959" stroke-width="0.8"/>
<line x1="648.7" y1="214.9" x2="651.7" y2="214.9" stroke="#595959" stroke-width="0.8"/>
<line x1="648.7" y1="197.6" x2="651.7" y2="197.6" stroke="#595959" stroke-width="0.8"/>
<line x1="648.7" y1="180.4" x2="651.7" y2="180.4" stroke="#595959" stroke-width="0.8"/>
<rect x="497.5" y="171.8" width="154.2" height="129.2" fill="none" stroke="#a2a2a2" stroke-width="1.1"/>
<line x1="499.5" y1="236.4" x2="651.7" y2="236.4" stroke="#555" stroke-width="1.5" stroke-dasharray="4.1 2.9"/>
<line x1="499.5" y1="257.7" x2="651.7" y2="257.7" stroke="#ff3030" stroke-width="1.2" stroke-dasharray="3.9 3"/>
<polyline points="497.70,209.50 498.60,205.00 499.24,203.33 500.00,201.30 501.16,200.30 501.30,199.50 501.94,199.33 502.19,198.67 503.20,198.20 503.96,199.68 503.91,198.81 505.00,200.00 505.16,202.03 506.30,202.20 507.23,201.98 507.70,204.50 508.98,205.19 509.10,203.10 509.93,202.80 510.40,201.80 510.69,199.00 511.80,199.10 512.70,200.90 513.38,200.03 514.00,201.80 514.33,200.13 515.40,200.00 515.54,198.74 516.80,197.70 517.38,197.13 518.10,194.50 518.67,192.92 519.20,190.50 519.80,188.59 520.40,185.70 520.95,183.23 521.60,182.10 522.83,181.75 523.27,179.06 523.50,176.60 523.60,182.10 523.94,182.09 524.48,182.41 525.30,184.50 526.22,184.60 526.92,184.96 527.10,185.70 528.25,185.74 527.70,182.83 528.90,182.70 529.99,185.31 530.10,188.10 531.28,181.44 531.30,175.40 531.39,179.14 532.50,182.10 533.43,184.11 533.70,187.50 533.80,187.60 535.46,189.47 535.50,189.30 535.69,190.09 536.80,192.40 537.40,196.00 537.52,196.78 538.60,200.20 539.56,200.73 539.80,203.20 540.47,204.59 541.00,206.30 541.23,208.20 542.20,208.70 542.80,212.00 543.20,215.00 543.39,216.83 544.01,217.56 545.10,219.20 545.80,223.70 545.99,223.51 547.43,225.61 547.40,225.20 548.10,231.20 548.90,235.00 549.16,237.42 549.55,237.22 550.40,238.80 551.38,240.35 551.02,242.52 551.71,241.45 552.60,243.30 553.56,244.19 553.62,244.82 554.50,247.50 554.71,249.00 555.90,250.00 556.19,253.80 557.10,257.00 557.60,252.00 558.08,252.59 559.42,253.42 559.50,254.20 560.19,259.85 560.70,263.30 560.92,257.41 561.90,253.60 562.50,258.00 563.59,262.80 563.70,265.70 565.20,262.10 565.60,278.40 567.00,274.20 567.40,264.50 568.80,263.00 569.20,268.10 570.10,266.90 570.50,257.90 571.30,262.10 571.70,268.10 573.10,266.00 573.50,261.00 575.50,261.50 575.90,265.00 577.30,269.30 577.70,260.30 579.10,266.90 579.50,273.60 580.90,270.70 581.30,266.00 583.30,270.00 583.70,285.00 585.20,283.80 585.60,276.00 587.00,274.00 587.40,285.00 588.90,288.80 589.30,280.40 591.30,270.00 591.70,282.00 593.20,280.00 593.60,272.00 595.00,272.50 595.40,278.60 596.80,276.10 597.20,268.90 598.60,277.40 599.00,285.20 600.40,280.00 600.80,272.00 602.20,273.10 602.60,279.20 604.60,276.80 605.00,265.90 606.50,279.20 606.90,290.00 608.50,277.00 608.90,272.00 610.10,269.50 610.50,276.80 611.90,278.00 612.30,271.00 613.70,268.30 614.10,275.50 615.30,280.00 615.70,268.00 616.70,267.70 617.10,279.20 617.90,287.60 618.30,282.80 619.40,274.00 619.80,280.00 621.00,280.30 621.40,271.20 622.50,270.00 622.90,278.00 624.00,281.70 624.40,264.30 625.40,269.10 625.80,280.30 627.40,282.40 627.80,262.90 628.70,272.00 629.10,284.00 630.20,294.20 630.60,285.20 632.30,285.90 632.70,300.50 633.70,283.00 634.10,276.00 635.10,274.00 635.50,282.40 636.50,284.00 636.90,276.00 637.90,274.70 638.30,281.70 639.30,300.50 639.70,287.20 640.70,277.00 641.10,285.00 642.10,288.60 642.50,278.90 643.90,274.00 644.30,283.00 645.60,299.80 646.00,271.20 647.70,276.10 648.10,284.50 649.20,287.00 649.60,279.00 650.40,271.90 650.80,284.50 651.30,282.00 651.70,276.00" fill="none" stroke="#111" stroke-width="1.1" stroke-dasharray="1.1 0.6"/>
<path d="M497.00,241.30 C498.03,242.13 501.03,244.73 503.20,246.30 C505.37,247.87 507.87,249.27 510.00,250.70 C512.13,252.13 513.98,253.58 516.00,254.90 C518.02,256.22 520.08,257.48 522.10,258.60 C524.12,259.72 526.08,260.60 528.10,261.60 C530.12,262.60 532.18,263.70 534.20,264.60 C536.22,265.50 538.18,266.20 540.20,267.00 C542.22,267.80 544.67,268.77 546.30,269.40 C547.93,270.03 548.72,270.30 550.00,270.80 C551.28,271.30 552.32,271.93 554.00,272.40 C555.68,272.87 558.08,273.20 560.10,273.60 C562.12,274.00 564.08,274.35 566.10,274.80 C568.12,275.25 570.18,275.90 572.20,276.30 C574.22,276.70 576.18,276.85 578.20,277.20 C580.22,277.55 582.17,278.03 584.30,278.40 C586.43,278.77 588.87,279.07 591.00,279.40 C593.13,279.73 595.08,280.08 597.10,280.40 C599.12,280.72 601.08,280.93 603.10,281.30 C605.12,281.67 607.18,282.18 609.20,282.60 C611.22,283.02 611.42,282.80 615.20,283.80 C618.98,284.80 627.95,287.60 631.90,288.60 C635.85,289.60 636.57,289.45 638.90,289.80 C641.23,290.15 643.82,290.38 645.90,290.70 C647.98,291.02 650.48,291.53 651.40,291.70" fill="none" stroke="#16692a" stroke-width="1.15"/>
<path d="M497.00,235.00 C498.03,235.77 501.03,238.08 503.20,239.60 C505.37,241.12 507.87,242.65 510.00,244.10 C512.13,245.55 513.98,247.00 516.00,248.30 C518.02,249.60 520.08,250.90 522.10,251.90 C524.12,252.90 526.08,253.28 528.10,254.30 C530.12,255.32 532.18,256.88 534.20,258.00 C536.22,259.12 538.18,260.00 540.20,261.00 C542.22,262.00 544.67,263.25 546.30,264.00 C547.93,264.75 548.72,264.92 550.00,265.50 C551.28,266.08 552.32,266.77 554.00,267.50 C555.68,268.23 558.08,269.23 560.10,269.90 C562.12,270.57 564.08,270.98 566.10,271.50 C568.12,272.02 570.18,272.55 572.20,273.00 C574.22,273.45 576.18,273.80 578.20,274.20 C580.22,274.60 582.17,275.08 584.30,275.40 C586.43,275.72 588.87,275.87 591.00,276.10 C593.13,276.33 595.08,276.48 597.10,276.80 C599.12,277.12 601.08,277.65 603.10,278.00 C605.12,278.35 607.18,278.55 609.20,278.90 C611.22,279.25 611.42,279.05 615.20,280.10 C618.98,281.15 627.95,284.12 631.90,285.20 C635.85,286.28 636.57,286.27 638.90,286.60 C641.23,286.93 643.82,286.90 645.90,287.20 C647.98,287.50 650.48,288.20 651.40,288.40" fill="none" stroke="#155d82" stroke-width="1.15"/>
<path d="M497.00,228.80 C498.03,229.60 501.03,232.05 503.20,233.60 C505.37,235.15 507.87,236.65 510.00,238.10 C512.13,239.55 513.98,241.00 516.00,242.30 C518.02,243.60 520.08,244.80 522.10,245.90 C524.12,247.00 526.08,247.80 528.10,248.90 C530.12,250.00 532.18,251.40 534.20,252.50 C536.22,253.60 538.18,254.38 540.20,255.50 C542.22,256.62 544.67,258.32 546.30,259.20 C547.93,260.08 548.72,260.22 550.00,260.80 C551.28,261.38 552.32,261.98 554.00,262.70 C555.68,263.42 558.08,264.40 560.10,265.10 C562.12,265.80 564.08,266.30 566.10,266.90 C568.12,267.50 570.18,268.20 572.20,268.70 C574.22,269.20 576.18,269.47 578.20,269.90 C580.22,270.33 582.17,270.92 584.30,271.30 C586.43,271.68 588.87,271.88 591.00,272.20 C593.13,272.52 595.08,272.75 597.10,273.20 C599.12,273.65 601.08,274.42 603.10,274.90 C605.12,275.38 607.18,275.68 609.20,276.10 C611.22,276.52 613.18,276.98 615.20,277.40 C617.22,277.82 619.67,278.23 621.30,278.60 C622.93,278.97 623.23,279.20 625.00,279.60 C626.77,280.00 629.58,280.53 631.90,281.00 C634.22,281.47 636.57,282.05 638.90,282.40 C641.23,282.75 643.82,282.80 645.90,283.10 C647.98,283.40 650.48,284.02 651.40,284.20" fill="none" stroke="#e9702e" stroke-width="1.15"/>
<text x="490.6" y="174.8" font-size="8.5" text-anchor="end" textLength="17.01" lengthAdjust="spacingAndGlyphs">1E+1</text>
<text x="490.6" y="196.3" font-size="8.5" text-anchor="end" textLength="17.01" lengthAdjust="spacingAndGlyphs">1E+0</text>
<text x="490.6" y="217.9" font-size="8.5" text-anchor="end" textLength="15.20" lengthAdjust="spacingAndGlyphs">1E-1</text>
<text x="490.6" y="239.4" font-size="8.5" text-anchor="end" textLength="15.20" lengthAdjust="spacingAndGlyphs">1E-2</text>
<text x="490.6" y="260.9" font-size="8.5" text-anchor="end" textLength="15.20" lengthAdjust="spacingAndGlyphs">1E-3</text>
<text x="490.6" y="282.5" font-size="8.5" text-anchor="end" textLength="15.20" lengthAdjust="spacingAndGlyphs">1E-4</text>
<text x="490.6" y="304.0" font-size="8.5" text-anchor="end" textLength="15.20" lengthAdjust="spacingAndGlyphs">1E-5</text>
<text x="658.5" y="183.4" font-size="8.3">2.4</text>
<text x="658.5" y="200.6" font-size="8.3">2.2</text>
<text x="658.5" y="217.9" font-size="8.3">2</text>
<text x="658.5" y="235.1" font-size="8.3">1.8</text>
<text x="658.5" y="252.3" font-size="8.3">1.6</text>
<text x="658.5" y="269.5" font-size="8.3">1.4</text>
<text x="658.5" y="286.8" font-size="8.3">1.2</text>
<text x="658.5" y="304.0" font-size="8.3">1</text>
<text x="497.5" y="313.6" font-size="8.5" text-anchor="middle">200</text>
<text x="516.8" y="313.6" font-size="8.5" text-anchor="middle">300</text>
<text x="536.0" y="313.6" font-size="8.5" text-anchor="middle">400</text>
<text x="555.3" y="313.6" font-size="8.5" text-anchor="middle">500</text>
<text x="574.6" y="313.6" font-size="8.5" text-anchor="middle">600</text>
<text x="593.9" y="313.6" font-size="8.5" text-anchor="middle">700</text>
<text x="613.2" y="313.6" font-size="8.5" text-anchor="middle">800</text>
<text x="632.4" y="313.6" font-size="8.5" text-anchor="middle">900</text>
<text x="651.7" y="313.6" font-size="8.5" text-anchor="middle">1000</text>
<text x="574.7" y="324.6" font-size="9.4" font-weight="bold" text-anchor="middle">Ip (kA)</text>
<text transform="translate(470.2,236.4) rotate(-90)" font-size="9.3" font-weight="bold" text-anchor="middle">% of Total CGs</text>
<text transform="translate(679.2,236.1) rotate(-90)" font-size="9.3" font-weight="bold" text-anchor="middle">Sea to Land CGs Ratio</text>
<text x="628.2" y="187.7" font-size="15" font-weight="bold">(c)</text>
<text x="627.9" y="234.4" font-size="7.5" textLength="18" lengthAdjust="spacingAndGlyphs">0.01%</text>
<text x="626.2" y="256.2" font-size="7.5" fill="#ff0000" textLength="21.6" lengthAdjust="spacingAndGlyphs">0.001%</text>
<line x1="0" y1="0.5" x2="456" y2="0.5" stroke="#e0e0e0" stroke-width="1"/>
<line x1="456" y1="0.5" x2="685" y2="0.5" stroke="#efefef" stroke-width="1"/>
<line x1="0.5" y1="0" x2="0.5" y2="331" stroke="#e0e0e0" stroke-width="1"/>
<line x1="0" y1="330.5" x2="685" y2="330.5" stroke="#e6e6e6" stroke-width="1"/>
<line x1="456.8" y1="0" x2="456.8" y2="331" stroke="#dadada" stroke-width="1.6"/>
<line x1="456" y1="165.5" x2="685" y2="165.5" stroke="#e0e0e0" stroke-width="1.4"/>
<line x1="684.5" y1="0" x2="684.5" y2="331" stroke="#f3f3f3" stroke-width="1"/>
</svg>
</body></html>
